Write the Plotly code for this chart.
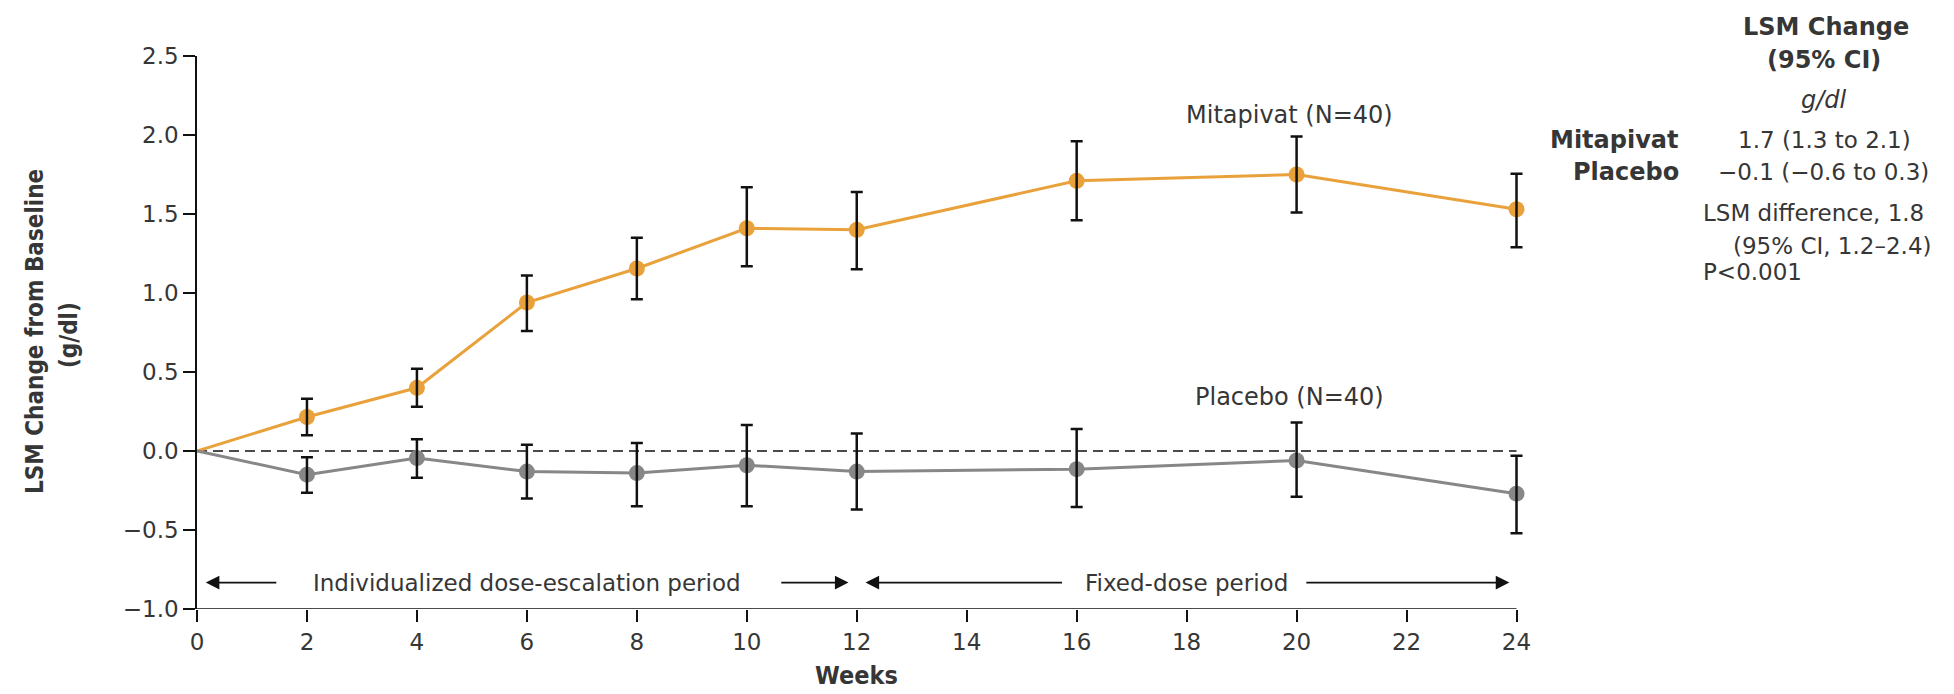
import plotly.graph_objects as go

# ---------------- data ----------------
weeks = [0, 2, 4, 6, 8, 10, 12, 16, 20, 24]
x_ticks = [0, 2, 4, 6, 8, 10, 12, 14, 16, 18, 20, 22, 24]
y_ticks = [-1.0, -0.5, 0.0, 0.5, 1.0, 1.5, 2.0, 2.5]

mit_mean = [0.0, 0.215, 0.40, 0.94, 1.155, 1.41, 1.40, 1.71, 1.75, 1.53]
mit_upper = [None, 0.33, 0.52, 1.11, 1.35, 1.67, 1.64, 1.96, 1.99, 1.755]
mit_lower = [None, 0.10, 0.28, 0.76, 0.96, 1.17, 1.15, 1.46, 1.51, 1.29]

pla_mean = [0.0, -0.15, -0.045, -0.13, -0.14, -0.09, -0.13, -0.115, -0.06, -0.27]
pla_upper = [None, -0.04, 0.075, 0.04, 0.05, 0.165, 0.11, 0.14, 0.18, -0.03]
pla_lower = [None, -0.265, -0.17, -0.30, -0.35, -0.35, -0.37, -0.355, -0.29, -0.52]

series_labels = ["Mitapivat (N=40)", "Placebo (N=40)"]
period_labels = ["Individualized dose-escalation period", "Fixed-dose period"]

# ---------------- styling ----------------
W, H = 1954, 694
L, T, B = 197, 56, 85
X_END_PX = 1517                 # pixel of the last tick (week 24)
PAD = 0.3                       # extra room right of week 24 so caps are not clipped
x_max = x_ticks[-1]
PX_PER_UNIT = (X_END_PX - L) / (x_max - x_ticks[0])
PW = PX_PER_UNIT * (x_max + PAD - x_ticks[0])
R = W - L - PW
PH = H - T - B
ORANGE = "#E9A23B"
GRAY = "#878787"
TXT = "#363636"
AXC = "#111111"
FONT = "DejaVu Sans, sans-serif"
COND = "DejaVu Sans Condensed, Liberation Sans Narrow, sans-serif"


def px_x(p):
    return (p - L) / PW


def px_y(p):
    return (H - B - p) / PH


fig = go.Figure()


def add_series(mean, lower, upper, color):
    fig.add_trace(go.Scatter(x=weeks, y=mean, mode="lines",
                             line=dict(color=color, width=3),
                             cliponaxis=False,
                             hoverinfo="skip", showlegend=False))
    xs = [w for w, lo in zip(weeks, lower) if lo is not None]
    ys = [m for m, lo in zip(mean, lower) if lo is not None]
    plus = [u - m for m, u, lo in zip(mean, upper, lower) if lo is not None]
    minus = [m - lo for m, lo in zip(mean, lower) if lo is not None]
    fig.add_trace(go.Scatter(x=xs, y=ys, mode="markers",
                             marker=dict(color=color, size=16),
                             cliponaxis=False, showlegend=False))
    fig.add_trace(go.Scatter(x=xs, y=ys, mode="markers",
                             marker=dict(color=color, size=1, opacity=0),
                             error_y=dict(type="data", symmetric=False,
                                          array=plus, arrayminus=minus,
                                          color=AXC, thickness=2.5,
                                          width=6),
                             cliponaxis=False, showlegend=False))


add_series(mit_mean, mit_lower, mit_upper, ORANGE)
add_series(pla_mean, pla_lower, pla_upper, GRAY)

# zero reference line
fig.add_shape(type="line", xref="x", yref="y", x0=x_ticks[0], x1=x_max,
              y0=0, y1=0, line=dict(color=AXC, width=1.6, dash="10px,6px"),
              layer="below")
# x-axis baseline (ends exactly at week 24)
fig.add_shape(type="line", xref="x", yref="y", x0=x_ticks[0], x1=x_max,
              y0=y_ticks[0], y1=y_ticks[0], line=dict(color=AXC, width=1.6),
              layer="above")

ann = []


def txt(x, y, text, size=24, xanchor="center", family=FONT, **kw):
    ann.append(dict(x=px_x(x), y=px_y(y), xref="paper", yref="paper",
                    text=text, showarrow=False, xanchor=xanchor,
                    yanchor="middle",
                    font=dict(family=family, size=size, color=TXT), **kw))


# series labels
txt(1290, 115, series_labels[0], size=24)
txt(1290, 397, series_labels[1], size=24)

# period labels + arrows
PER_Y = -0.833
for xc, lab in [(6.0, period_labels[0]), (18.0, period_labels[1])]:
    ann.append(dict(x=xc, y=PER_Y, xref="x", yref="y", text=lab,
                    showarrow=False, xanchor="center", yanchor="middle",
                    font=dict(family=FONT, size=23, color=TXT)))
for head, tail in [(0.16, 1.47), (11.85, 10.6), (12.16, 15.76), (23.87, 20.15)]:
    ann.append(dict(x=head, y=PER_Y, ax=tail, ay=PER_Y, xref="x", yref="y",
                    axref="x", ayref="y", text="", showarrow=True,
                    arrowhead=2, arrowsize=1.7, arrowwidth=1.6,
                    arrowcolor=AXC))

# right-hand summary panel
txt(1827, 27, "<b>LSM Change</b>", size=24)
txt(1825, 60, "<b>(95% CI)</b>", size=24)
txt(1825, 100, "<i>g/dl</i>", size=24)
txt(1682, 140, "<b>Mitapivat</b>", size=24, xanchor="right")
txt(1682, 172, "<b>Placebo</b>", size=24, xanchor="right")
txt(1825, 140, "1.7 (1.3 to 2.1)", size=23)
txt(1824, 172, "\u22120.1 (\u22120.6 to 0.3)", size=23)
txt(1702, 213, "LSM difference, 1.8", size=23, xanchor="left")
txt(1732, 246, "(95% CI, 1.2\u20132.4)", size=23, xanchor="left")
txt(1702, 272, "P&lt;0.001", size=23, xanchor="left")

# axis titles
txt(35, 332, "<b>LSM Change from Baseline</b>", size=24, family=COND,
    textangle=-90)
txt(69, 335, "<b>(g/dl)</b>", size=24, family=COND, textangle=-90)
txt(857, 676, "<b>Weeks</b>", size=25, family=COND)

fig.update_layout(
    width=W, height=H,
    margin=dict(l=L, r=R, t=T, b=B),
    paper_bgcolor="white", plot_bgcolor="white",
    showlegend=False,
    annotations=ann,
    xaxis=dict(range=[x_ticks[0], x_max + PAD], tickvals=x_ticks,
               showline=False,
               ticks="outside", ticklen=12, tickwidth=1.6, tickcolor=AXC,
               showgrid=False, zeroline=False,
               tickfont=dict(family=FONT, size=23, color=TXT)),
    yaxis=dict(range=[y_ticks[0], y_ticks[-1]], tickvals=y_ticks,
               tickformat=".1f",
               showline=True, linecolor=AXC, linewidth=1.6,
               ticks="outside", ticklen=12, tickwidth=1.6, tickcolor=AXC,
               showgrid=False, zeroline=False,
               tickfont=dict(family=FONT, size=23, color=TXT)),
)

fig.write_html("out.html",
               config={"displayModeBar": False},
               post_script="document.body.style.margin='0';"
                           "document.body.style.overflow='hidden';")
